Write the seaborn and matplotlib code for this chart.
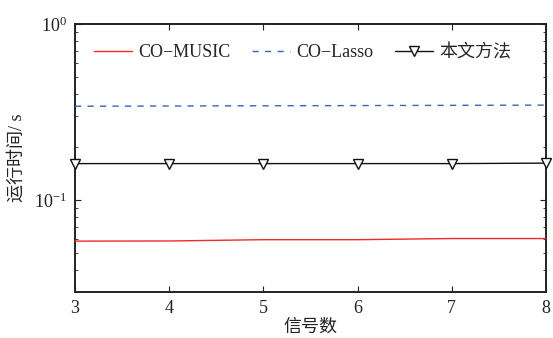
"""
Running time vs number of signals (log y axis), MATLAB-style figure.
"""

import numpy as np
import pandas as pd
import matplotlib
matplotlib.use("Agg")
import matplotlib.pyplot as plt
import seaborn as sns
from matplotlib.ticker import LogLocator, NullFormatter

# data
signal_counts = [3, 4, 5, 6, 7, 8]
time_co_music = [0.0584, 0.0585, 0.0595, 0.0595, 0.0604, 0.0604]
time_co_lasso = [0.341, 0.342, 0.343, 0.344, 0.345, 0.346]
time_proposed = [0.161, 0.161, 0.161, 0.161, 0.161, 0.162]
method_names = ["CO\u2212MUSIC", "CO\u2212Lasso", "本文方法"]

sns.set_style("ticks")
plt.rcParams["font.family"] = ["Liberation Serif", "Noto Sans CJK SC"]
plt.rcParams["mathtext.fontset"] = "stix"
plt.rcParams["axes.unicode_minus"] = True

df = pd.DataFrame({
    "signals": signal_counts * 3,
    "time": time_co_music + time_co_lasso + time_proposed,
    "method": [method_names[0]] * 6 + [method_names[1]] * 6 + [method_names[2]] * 6,
})

fig = plt.figure(figsize=(5.53, 3.38), dpi=100)
ax = fig.add_axes([0.1356, 0.136, 0.8517, 0.793])

styles = {
    method_names[0]: dict(color="#ee2a2a", linestyle="-", marker=None),
    method_names[1]: dict(color="#3466c2", linestyle=(0, (4.5, 4.5)), marker=None),
    method_names[2]: dict(color="#111111", linestyle="-", marker="v"),
}

for name in method_names:
    st = styles[name]
    sub = df[df["method"] == name]
    sns.lineplot(
        data=sub, x="signals", y="time", ax=ax,
        color=st["color"], linestyle=st["linestyle"], linewidth=1.0,
        marker=st["marker"], markersize=7, markerfacecolor="white",
        markeredgecolor="#111111", markeredgewidth=1.0,
        label=name, clip_on=False, zorder=3,
    )

ax.set_yscale("log")
ax.set_xlim(3, 8)
ax.set_ylim(0.03, 1)
ax.set_xticks(signal_counts)
ax.yaxis.set_major_locator(LogLocator(base=10, numticks=5))
ax.yaxis.set_minor_locator(LogLocator(base=10, subs=np.arange(2, 10), numticks=10))
ax.yaxis.set_minor_formatter(NullFormatter())

ax.tick_params(axis="both", which="both", direction="in", top=True, right=True,
               labelsize=13, colors="#222222")
ax.tick_params(axis="both", which="major", length=4, width=0.8, pad=6)
ax.tick_params(axis="y", which="minor", length=2.5, width=0.6)
for sp in ax.spines.values():
    sp.set_linewidth(1.4)
    sp.set_color("#222222")

ax.set_xlabel("信号数", fontsize=13, labelpad=1, color="#222222")
ax.set_ylabel("运行时间/ s", fontsize=13, labelpad=6, color="#222222")

ax.legend(loc="upper left", bbox_to_anchor=(0.025, 0.953), ncol=3, frameon=False,
          fontsize=13, handlelength=2.1, handletextpad=0.35, columnspacing=1.2,
          borderaxespad=0.0)

fig.savefig("out.png", dpi=100)
plt.close(fig)
